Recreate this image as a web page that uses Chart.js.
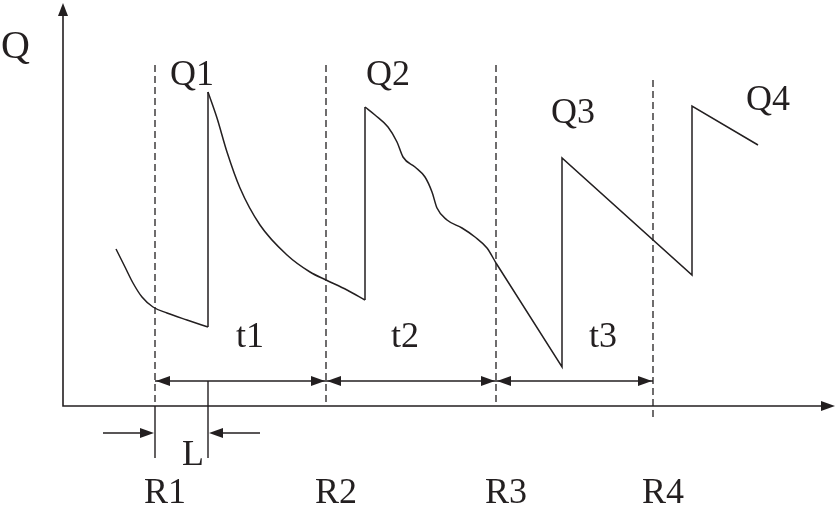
<!DOCTYPE html>
<html>
<head>
<meta charset="utf-8">
<script src="https://cdn.jsdelivr.net/npm/chart.js@4"></script>
<style>
  html, body { margin: 0; padding: 0; background: #fff; }
  #wrap { width: 838px; height: 505px; }
</style>
</head>
<body>
<div id="wrap"><canvas id="flowChart" width="838" height="505"></canvas></div>
<script>
// time axis (t) and flow (Q), origin at the axis corner
const startT = [53, 62, 70, 79, 90, 104, 124, 145];
const startQ = [157, 139, 123, 109, 99, 93, 86, 79];

const decay1T = [145, 154, 164, 177, 197, 224, 247, 263, 284, 302];
const decay1Q = [314, 288, 254, 218, 181, 151, 134, 126, 116, 106];

const decay2T = [302, 312, 325, 334, 340, 352, 362, 369, 374, 384, 399, 412, 424, 433];
const decay2Q = [299, 291, 279, 264, 249, 239, 229, 214, 198, 186, 178, 169, 158, 143];

// straight parts and the jumps (null = pen up)
const jumpT = [145, 145, null, 302, 302, null, 433, 499, 499, 629, 629, 695];
const jumpQ = [79, 314, null, 106, 299, null, 143, 39, 248, 131, 300, 261];

const refT = [92, 263, 433, 590];
const refTop = [341, 341, 341, 326];
const refBottom = [0, 0, 0, -12];
const refLabels = ['R1', 'R2', 'R3', 'R4'];

const intervalLabels = ['t1', 't2', 't3'];
const peakLabels = ['Q1', 'Q2', 'Q3', 'Q4'];
const dimQ = 25;        // level of the t1..t3 dimension line
const lagT = [92, 145]; // L: from R1 to the first jump

const INK = '#231f20';

function pts(ts, qs) {
    return ts.map((t, i) => ({ x: t, y: qs[i] }));
}

const refData = [];
refT.forEach((t, i) => {
    refData.push({ x: t, y: refTop[i] }, { x: t, y: refBottom[i] }, { x: t, y: null });
});

const jumpData = jumpT.map((t, i) => ({ x: t === null ? jumpT[i - 1] : t, y: jumpQ[i] }));

function arrowHead(ctx, x, y, dir) {
    // dir: 1 = points right, -1 = points left, 'up'
    ctx.beginPath();
    if (dir === 'up') {
        ctx.moveTo(x, y);
        ctx.lineTo(x - 5, y + 13);
        ctx.lineTo(x + 5, y + 13);
    } else {
        ctx.moveTo(x, y);
        ctx.lineTo(x - dir * 14, y - 5);
        ctx.lineTo(x - dir * 14, y + 5);
    }
    ctx.closePath();
    ctx.fill();
}

const sketchPlugin = {
    id: 'sketch',
    afterDatasetsDraw(chart) {
        const ctx = chart.ctx;
        const xs = chart.scales.x, ys = chart.scales.y;
        const px = v => xs.getPixelForValue(v);
        const py = v => ys.getPixelForValue(v);

        ctx.save();
        ctx.strokeStyle = INK;
        ctx.fillStyle = INK;
        ctx.lineWidth = 1.6;

        // axes
        ctx.beginPath();
        ctx.moveTo(px(0), py(403) + 8);
        ctx.lineTo(px(0), py(0));
        ctx.lineTo(px(772) - 8, py(0));
        ctx.stroke();
        arrowHead(ctx, px(0), py(403), 'up');
        arrowHead(ctx, px(772), py(0), 1);

        ctx.lineWidth = 1.4;
        // solid ticks below the axis for L
        ctx.beginPath();
        ctx.moveTo(px(lagT[0]), py(0));
        ctx.lineTo(px(lagT[0]), py(-52));
        ctx.moveTo(px(lagT[1]), py(dimQ));
        ctx.lineTo(px(lagT[1]), py(-52));
        ctx.stroke();

        // t1..t3 dimension line
        const yd = py(dimQ);
        ctx.beginPath();
        ctx.moveTo(px(refT[0]), yd);
        ctx.lineTo(px(refT[refT.length - 1]), yd);
        ctx.stroke();
        for (let i = 0; i < refT.length - 1; i++) {
            arrowHead(ctx, px(refT[i]) + 1, yd, -1);
            arrowHead(ctx, px(refT[i + 1]) - 1, yd, 1);
        }

        // L arrows
        const yl = py(-27);
        ctx.beginPath();
        ctx.moveTo(px(lagT[0] - 52), yl);
        ctx.lineTo(px(lagT[0]) - 6, yl);
        ctx.moveTo(px(lagT[1] + 52), yl);
        ctx.lineTo(px(lagT[1]) + 6, yl);
        ctx.stroke();
        arrowHead(ctx, px(lagT[0]) - 1, yl, 1);
        arrowHead(ctx, px(lagT[1]) + 1, yl, -1);

        // text
        ctx.textBaseline = 'alphabetic';
        ctx.textAlign = 'left';
        ctx.font = '40px "Liberation Serif", "Times New Roman", serif';
        ctx.fillText('Q', px(-62), py(348));

        ctx.font = '36px "Liberation Serif", "Times New Roman", serif';
        const peakPos = [[107, 321], [303, 321], [488, 283], [683, 296]];
        peakLabels.forEach((s, i) => ctx.fillText(s, px(peakPos[i][0]), py(peakPos[i][1])));

        const intPos = [173, 328, 526];
        intervalLabels.forEach((s, i) => ctx.fillText(s, px(intPos[i]), py(59)));

        ctx.fillText('L', px(119), py(-59));

        ctx.textAlign = 'center';
        refLabels.forEach((s, i) => ctx.fillText(s, px(refT[i] + 10), py(-97)));

        ctx.restore();
    }
};

const curveStyle = {
    borderColor: INK,
    borderWidth: 1.5,
    pointRadius: 0,
    fill: false,
    cubicInterpolationMode: 'monotone'
};

new Chart(document.getElementById('flowChart').getContext('2d'), {
    type: 'line',
    data: {
        datasets: [
            Object.assign({ label: 'start', data: pts(startT, startQ) }, curveStyle),
            Object.assign({ label: 'Q1', data: pts(decay1T, decay1Q) }, curveStyle),
            Object.assign({ label: 'Q2', data: pts(decay2T, decay2Q) }, curveStyle),
            {
                label: 'jumps',
                data: jumpData,
                borderColor: INK,
                borderWidth: 1.5,
                pointRadius: 0,
                tension: 0,
                spanGaps: false
            },
            {
                label: 'refs',
                data: refData,
                borderColor: INK,
                borderWidth: 1.3,
                borderDash: [7, 4],
                pointRadius: 0,
                tension: 0,
                spanGaps: false
            }
        ]
    },
    options: {
        responsive: false,
        animation: false,
        devicePixelRatio: 1,
        layout: { padding: 0 },
        plugins: {
            legend: { display: false },
            tooltip: { enabled: false }
        },
        scales: {
            x: { type: 'linear', min: -63, max: 775, display: false },
            y: { type: 'linear', min: -99, max: 406, display: false }
        }
    },
    plugins: [sketchPlugin]
});
</script>
</body>
</html>
